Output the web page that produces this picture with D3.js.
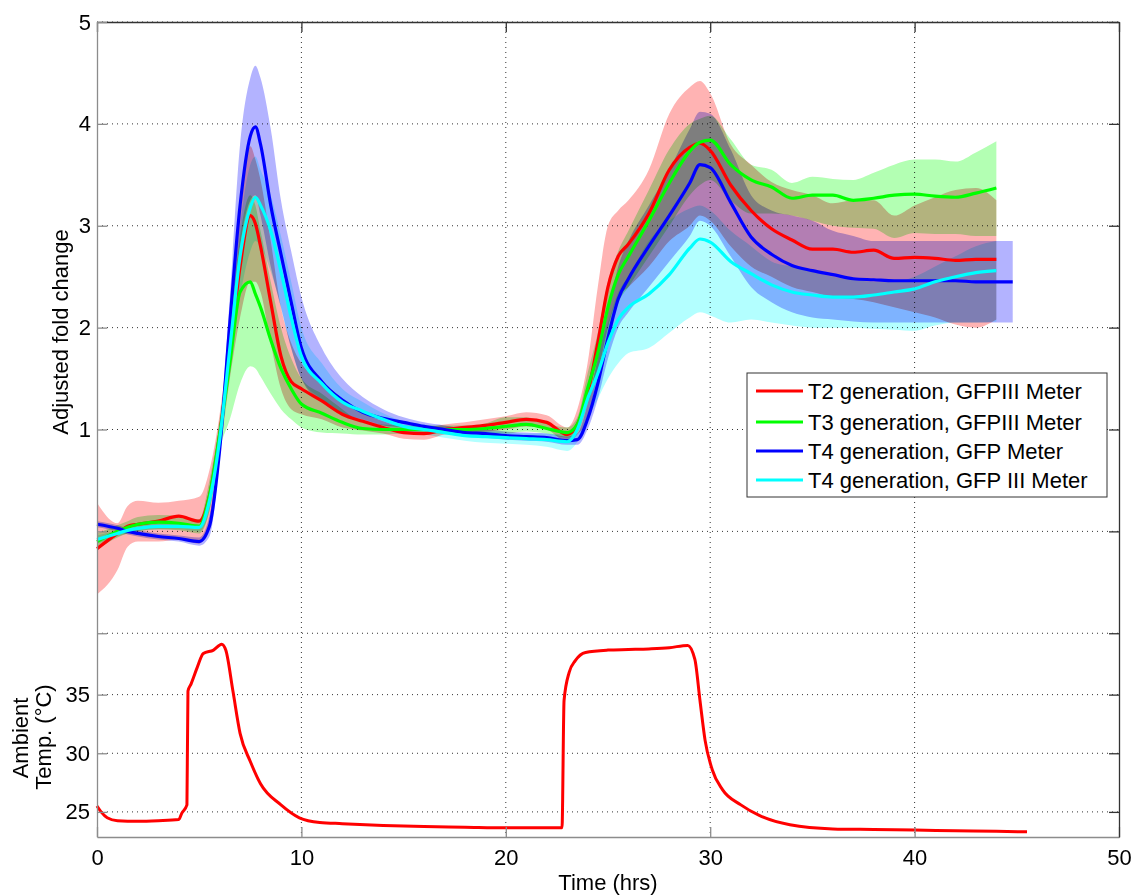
<!DOCTYPE html>
<html>
<head>
<meta charset="utf-8">
<script src="https://cdn.jsdelivr.net/npm/d3@7"></script>
<style>
body{margin:0;background:#fff}
text{font-family:"Liberation Sans",Arial,sans-serif;font-size:22px;fill:#000}
</style>
</head>
<body>
<script>
// time grid (hrs) for the fold-change curves
var hours = [0,1,1.5,2,3,4,5, 5.5,6,6.5,7,7.5,7.75,8,8.5,9,9.5,10,
  11,12,13,14,15,16,17,18,19,20,21,22,23, 23.5,24,24.5,25,25.5,26,
  27,28,29,29.5,30, 31,32,33,34,35,36,37,38,39,40,41,42,43,44];
var hoursT4 = hours.concat([44.8]);

// T2 generation, GFPIII Meter
var t2Mean = [-0.17,-0.02,0.05,0.07,0.1,0.15,0.1, 0.35,0.95,1.75,2.6,3.1,3.02,2.8,2.25,1.72,1.47,1.4,
  1.28,1.15,1.08,1.02,0.97,0.96,1.0,1.02,1.04,1.07,1.1,1.07,0.95, 1.05,1.35,1.85,2.4,2.7,2.82,
  3.12,3.55,3.77,3.81,3.74, 3.4,3.15,2.97,2.86,2.77,2.77,2.74,2.76,2.68,2.69,2.68,2.66,2.67,2.67];
var t2Lo = [-0.62,-0.38,-0.15,-0.1,-0.1,-0.08,-0.12, 0.1,0.75,1.5,2.1,2.45,2.45,2.35,1.85,1.4,1.2,1.15,
  1.1,1.02,0.99,0.96,0.91,0.9,0.95,0.97,0.98,1.0,1.03,1.0,0.88, 0.95,1.1,1.55,2.0,2.3,2.4,
  2.6,2.85,3.0,3.1,3.05, 2.8,2.6,2.5,2.4,2.35,2.3,2.28,2.25,2.2,2.15,2.1,2.03,2.0,2.08];
var t2Hi = [0.28,0.08,0.25,0.3,0.28,0.3,0.34, 0.6,1.15,2.0,3.1,3.78,3.65,3.45,2.85,2.2,1.85,1.65,
  1.48,1.3,1.17,1.08,1.03,1.02,1.05,1.07,1.1,1.13,1.17,1.14,1.02, 1.2,1.65,2.4,3.0,3.15,3.25,
  3.55,4.1,4.36,4.42,4.3, 3.8,3.6,3.43,3.35,3.3,3.22,3.25,3.25,3.1,3.2,3.28,3.35,3.37,3.25];

// T3 generation, GFPIII Meter
var t3Mean = [-0.1,0.0,0.04,0.07,0.09,0.08,0.05, 0.35,0.95,1.65,2.35,2.45,2.33,2.2,1.88,1.6,1.4,1.25,
  1.16,1.07,1.01,1.0,1.0,1.0,1.0,1.0,1.01,1.03,1.05,1.01,0.97, 1.05,1.4,1.75,2.2,2.52,2.7,
  3.05,3.42,3.73,3.82,3.84, 3.6,3.45,3.38,3.27,3.3,3.3,3.25,3.27,3.3,3.31,3.29,3.28,3.32,3.37];
var t3Lo = [-0.18,-0.06,-0.02,0.0,0.02,0.01,-0.02, 0.2,0.8,1.1,1.45,1.62,1.6,1.52,1.35,1.2,1.1,1.02,
  0.97,0.96,0.95,0.95,0.96,0.96,0.96,0.96,0.96,0.96,0.98,0.96,0.92, 0.98,1.25,1.55,1.95,2.25,2.4,
  2.7,3.0,3.3,3.4,3.45, 3.25,3.12,3.12,3.1,3.05,3.0,2.98,2.97,2.88,2.93,2.92,2.92,2.9,2.9];
var t3Hi = [-0.02,0.06,0.1,0.14,0.16,0.15,0.12, 0.5,1.1,1.95,2.9,3.3,3.2,2.95,2.45,2.0,1.7,1.5,
  1.35,1.2,1.07,1.05,1.04,1.04,1.04,1.04,1.06,1.12,1.12,1.06,1.02, 1.12,1.55,1.95,2.45,2.75,2.95,
  3.35,3.75,4.0,4.05,4.08, 3.85,3.6,3.55,3.42,3.48,3.46,3.45,3.52,3.6,3.65,3.65,3.63,3.72,3.83];

// T4 generation, GFP Meter (runs to 44.8 h)
var t4Mean = [0.07,0.03,0.0,-0.02,-0.05,-0.07,-0.1, 0.05,0.8,2.05,3.2,3.88,3.97,3.8,3.2,2.72,2.25,1.8,
  1.47,1.29,1.17,1.11,1.07,1.03,1.0,0.97,0.96,0.94,0.93,0.92,0.89, 0.9,1.1,1.45,1.9,2.28,2.48,
  2.8,3.1,3.42,3.6,3.57, 3.23,2.89,2.72,2.61,2.56,2.52,2.48,2.47,2.46,2.46,2.46,2.46,2.45,2.45, 2.45];
var t4Lo = [0.04,0.0,-0.03,-0.05,-0.08,-0.1,-0.14, -0.05,0.7,1.8,2.8,3.25,3.3,3.1,2.6,2.2,1.8,1.5,
  1.27,1.15,1.08,1.04,1.02,0.99,0.96,0.93,0.92,0.9,0.89,0.88,0.85, 0.85,1.0,1.3,1.7,2.0,2.15,
  2.4,2.65,2.9,3.05,3.0, 2.7,2.4,2.25,2.15,2.1,2.08,2.06,2.05,2.05,2.05,2.05,2.05,2.05,2.05, 2.05];
var t4Hi = [0.1,0.06,0.03,0.01,-0.02,-0.04,-0.06, 0.15,0.95,2.3,3.8,4.45,4.57,4.45,3.95,3.25,2.75,2.3,
  1.8,1.5,1.32,1.2,1.12,1.07,1.04,1.01,1.0,0.98,0.97,0.96,0.93, 0.96,1.25,1.7,2.15,2.6,2.85,
  3.2,3.55,3.95,4.12,4.1, 3.75,3.3,3.15,3.1,3.05,2.95,2.9,2.85,2.85,2.85,2.85,2.85,2.85,2.85, 2.85];

// T4 generation, GFP III Meter
var t4bMean = [-0.08,-0.02,0.01,0.03,0.05,0.05,0.04, 0.3,0.9,1.8,2.7,3.18,3.28,3.2,2.95,2.55,2.1,1.72,
  1.45,1.27,1.18,1.1,1.03,1.0,0.97,0.94,0.93,0.92,0.91,0.9,0.88, 1.0,1.3,1.55,1.85,2.08,2.2,
  2.33,2.52,2.78,2.87,2.84, 2.65,2.53,2.42,2.35,2.32,2.3,2.3,2.32,2.35,2.38,2.45,2.5,2.54,2.56];
var t4bLo = [-0.12,-0.05,-0.02,0.0,0.02,0.02,0.0, 0.2,0.8,1.6,2.3,2.75,2.85,2.8,2.55,2.2,1.8,1.5,
  1.3,1.16,1.1,1.04,0.98,0.95,0.92,0.89,0.87,0.86,0.85,0.83,0.79, 0.88,1.1,1.3,1.5,1.65,1.75,
  1.8,1.95,2.1,2.15,2.12, 2.05,2.08,2.05,2.02,2.0,2.0,2.0,1.99,1.98,1.97,2.02,2.05,2.05,2.06];
var t4bHi = [-0.04,0.01,0.04,0.06,0.08,0.08,0.07, 0.4,1.0,2.0,3.0,3.6,3.68,3.55,3.3,2.9,2.45,2.0,
  1.65,1.4,1.27,1.16,1.08,1.05,1.02,0.99,0.98,0.97,0.96,0.96,0.95, 1.1,1.45,1.75,2.05,2.35,2.5,
  2.85,3.05,3.17,3.2,3.15, 2.95,2.8,2.65,2.6,2.55,2.5,2.47,2.45,2.45,2.5,2.6,2.7,2.8,2.85];

// ambient temperature
var tempHours = [0,0.2,0.5,1,2,3,4, 4.15,4.4,4.45,4.6,4.9,5.2,5.7,6.1,6.3,6.65,
  7.0,7.5,8,9,9.9,10.9,12,14,16,18, 20,22,22.75,22.85,23.1,23.4,23.9,25,26,27,
  28,28.9,29.25,29.5,29.75,30.1,30.6,31.5,32.4,33.9, 36,38,40,42,44,45.5];
var tempC = [25.5,25.0,24.5,24.25,24.2,24.25,24.35, 24.9,25.6,35.3,35.9,37.3,38.5,38.8,39.3,38.8,35.3,
  31.7,29.3,27.4,25.6,24.5,24.1,24.0,23.85,23.75,23.7, 23.65,23.65,23.65,34.5,36.9,37.9,38.6,38.8,38.85,38.9,
  39.0,39.2,38.0,34.5,31.1,28.6,26.9,25.6,24.7,23.9, 23.55,23.5,23.45,23.4,23.35,23.3];

var xTicks = [0,10,20,30,40,50];
var foldTicks = [-1,0,1,2,3,4,5];
var tempTicks = [25,30,35];

var series = [
  {name:"T2 generation, GFPIII Meter", color:"#ff0000", fill:"#ffb3b3", t:hours, m:t2Mean, lo:t2Lo, hi:t2Hi},
  {name:"T3 generation, GFPIII Meter", color:"#00ff00", fill:"#b3ffb3", t:hours, m:t3Mean, lo:t3Lo, hi:t3Hi},
  {name:"T4 generation, GFP Meter", color:"#0000ff", fill:"#b3b3ff", t:hoursT4, m:t4Mean, lo:t4Lo, hi:t4Hi},
  {name:"T4 generation, GFP III Meter", color:"#00ffff", fill:"#b3ffff", t:hours, m:t4bMean, lo:t4bLo, hi:t4bHi}
];

var W=1135, H=896, L=97, R=1119, T=22, B=837;

var svg = d3.select("body").append("svg").attr("width",W).attr("height",H);
svg.append("rect").attr("width",W).attr("height",H).attr("fill","#fff");

var x = d3.scaleLinear().domain([0,50]).range([L,R]);
var y = d3.scaleLinear().domain([-3,5]).range([B,T]);
var yT = d3.scaleLinear().domain([22.86,40]).range([B,636]);

// dotted grid
var grid = svg.append("g").attr("stroke","#333").attr("stroke-width",1).attr("stroke-dasharray","1,4");
grid.selectAll(".gx").data(xTicks.slice(1,-1)).enter().append("line")
  .attr("x1",function(d){return x(d);}).attr("x2",function(d){return x(d);})
  .attr("y1",T).attr("y2",B);
grid.selectAll(".gy").data(foldTicks).enter().append("line")
  .attr("x1",L).attr("x2",R)
  .attr("y1",function(d){return y(d);}).attr("y2",function(d){return y(d);});
grid.selectAll(".gt").data(tempTicks).enter().append("line")
  .attr("x1",L).attr("x2",R)
  .attr("y1",function(d){return yT(d);}).attr("y2",function(d){return yT(d);});

// shaded bands
var bands = svg.append("g");
series.forEach(function(s){
  var area = d3.area().curve(d3.curveMonotoneX)
    .x(function(d,i){return x(s.t[i]);})
    .y0(function(d,i){return y(s.lo[i]);})
    .y1(function(d,i){return y(s.hi[i]);});
  bands.append("path").datum(s.m).attr("d",area)
    .attr("fill",s.fill).style("mix-blend-mode","multiply");
});

// mean lines
var lines = svg.append("g").attr("fill","none").attr("stroke-width",3.2).attr("stroke-linejoin","round");
series.forEach(function(s){
  var line = d3.line().curve(d3.curveMonotoneX)
    .x(function(d,i){return x(s.t[i]);})
    .y(function(d){return y(d);});
  lines.append("path").datum(s.m).attr("d",line).attr("stroke",s.color);
});

// temperature trace
var tLine = d3.line().curve(d3.curveMonotoneX)
  .x(function(d,i){return x(tempHours[i]);})
  .y(function(d){return yT(d);});
svg.append("path").datum(tempC).attr("d",tLine)
  .attr("fill","none").attr("stroke","#ff0000").attr("stroke-width",3).attr("stroke-linejoin","round");

// axes
function styleAxis(g, col){
  g.selectAll(".domain").attr("stroke",col).attr("stroke-width",1.3);
  g.selectAll(".tick line").attr("stroke",col).attr("stroke-width",1.3);
  g.selectAll("text").attr("fill","#000").style("font-size","22px")
    .style("font-family","'Liberation Sans',Arial,sans-serif");
}
var gB = svg.append("g").attr("transform","translate(0,"+B+")")
  .call(d3.axisBottom(x).tickValues(xTicks).tickSize(-10).tickSizeOuter(0).tickPadding(12));
styleAxis(gB,"#8c8c8c");
var gTop = svg.append("g").attr("transform","translate(0,"+T+")")
  .call(d3.axisTop(x).tickValues(xTicks).tickSize(-10).tickSizeOuter(0).tickFormat(""));
styleAxis(gTop,"#333");
var gL = svg.append("g").attr("transform","translate("+L+",0)")
  .call(d3.axisLeft(y).tickValues(foldTicks).tickSize(-10).tickSizeOuter(0).tickPadding(6)
    .tickFormat(function(d){return d>=1 ? d : "";}));
styleAxis(gL,"#8c8c8c");
var gLT = svg.append("g").attr("transform","translate("+L+",0)")
  .call(d3.axisLeft(yT).tickValues(tempTicks).tickSize(-10).tickSizeOuter(0).tickPadding(7));
styleAxis(gLT,"#8c8c8c");
gLT.select(".domain").remove();
var gR = svg.append("g").attr("transform","translate("+R+",0)")
  .call(d3.axisRight(y).tickValues(foldTicks).tickSize(-10).tickSizeOuter(0).tickFormat(""));
styleAxis(gR,"#333");
var gRT = svg.append("g").attr("transform","translate("+R+",0)")
  .call(d3.axisRight(yT).tickValues(tempTicks).tickSize(-10).tickSizeOuter(0).tickFormat(""));
styleAxis(gRT,"#333");
gRT.select(".domain").remove();

// axis titles
svg.append("text").attr("x",x(25)).attr("y",890).attr("text-anchor","middle").text("Time (hrs)");
svg.append("text").attr("transform","translate(68,332) rotate(-90)").attr("text-anchor","middle")
  .text("Adjusted fold change");
svg.append("text").attr("transform","translate(28,738) rotate(-90)").attr("text-anchor","middle")
  .text("Ambient");
svg.append("text").attr("transform","translate(51,737) rotate(-90)").attr("text-anchor","middle")
  .text("Temp. (\u00B0C)");

// legend
var lg = svg.append("g").attr("transform","translate(747,373)");
lg.append("rect").attr("width",360).attr("height",124).attr("fill","#fff")
  .attr("stroke","#333").attr("stroke-width",1);
var rowY = [18,49,78,107];
series.forEach(function(s,i){
  lg.append("line").attr("x1",9).attr("x2",56).attr("y1",rowY[i]).attr("y2",rowY[i])
    .attr("stroke",s.color).attr("stroke-width",3.2);
  lg.append("text").attr("x",61).attr("y",rowY[i]).attr("dy","0.35em").text(s.name);
});
</script>
</body>
</html>
